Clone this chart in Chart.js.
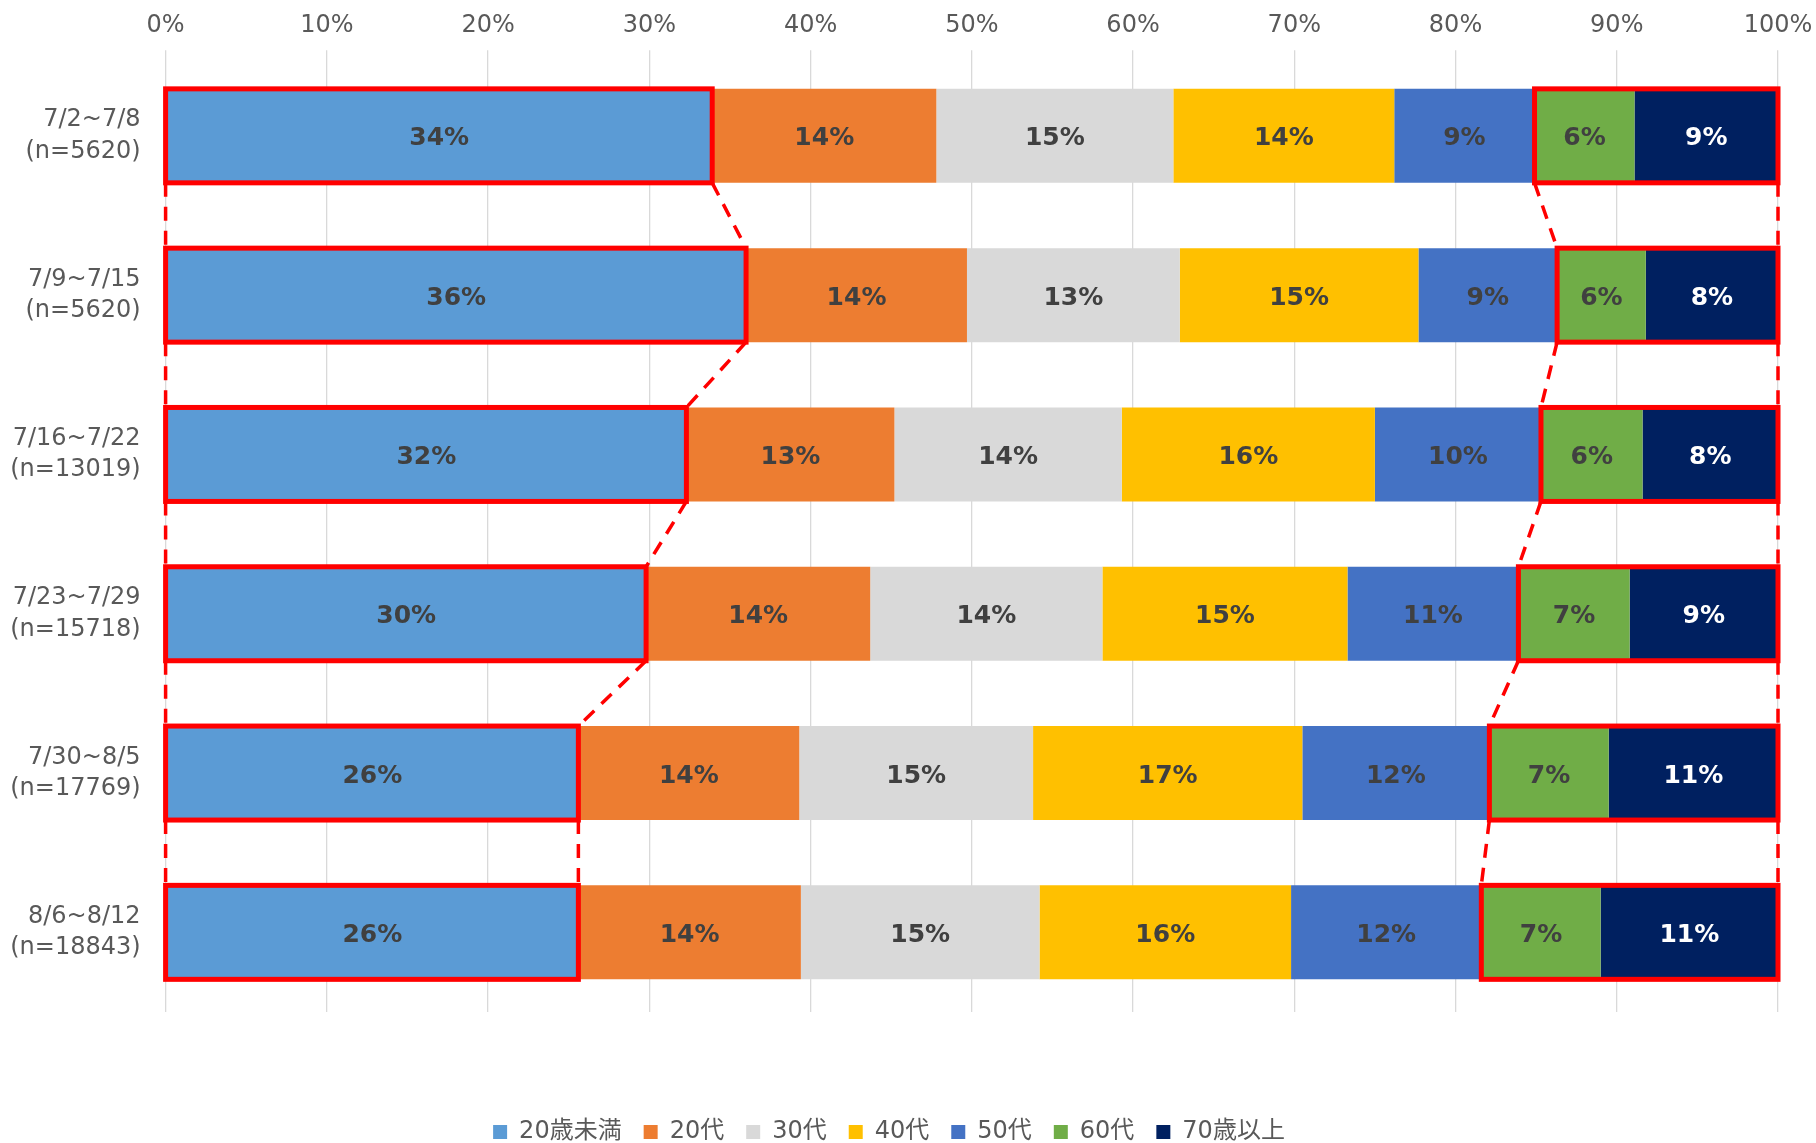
<!DOCTYPE html>
<html><head><meta charset="utf-8">
<script src="https://cdn.jsdelivr.net/npm/chart.js@4.4.1/dist/chart.umd.min.js"></script>
<style>html,body{margin:0;padding:0;background:#fff;}</style>
</head><body>
<canvas id="c" width="1816" height="1143"></canvas>
<script>
// ---- data ----
const categories = [
  ['7/2~7/8', '(n=5620)'],
  ['7/9~7/15', '(n=5620)'],
  ['7/16~7/22', '(n=13019)'],
  ['7/23~7/29', '(n=15718)'],
  ['7/30~8/5', '(n=17769)'],
  ['8/6~8/12', '(n=18843)']
];
const seriesNames = ['20歳未満', '20代', '30代', '40代', '50代', '60代', '70歳以上'];
const under20   = [33.9, 36.0, 32.3, 29.8, 25.6, 25.6];
const age20s    = [13.9, 13.7, 12.9, 13.9, 13.7, 13.8];
const age30s    = [14.7, 13.2, 14.1, 14.4, 14.5, 14.8];
const age40s    = [13.7, 14.8, 15.7, 15.2, 16.7, 15.6];
const age50s    = [ 8.7,  8.6, 10.3, 10.6, 11.6, 11.8];
const age60s    = [ 6.2,  5.5,  6.3,  6.9,  7.4,  7.4];
const age70plus = [ 8.9,  8.2,  8.4,  9.2, 10.5, 11.0];
const xTickLabels = ['0%','10%','20%','30%','40%','50%','60%','70%','80%','90%','100%'];

const seriesValues = [under20, age20s, age30s, age40s, age50s, age60s, age70plus];
const colors = ['#5B9BD5', '#ED7D31', '#D9D9D9', '#FFC000', '#4472C4', '#70AD47', '#002060'];
const labelColors = ['#404040', '#404040', '#404040', '#404040', '#404040', '#404040', '#FFFFFF'];

const FONT = '"DejaVu Sans", "Noto Sans CJK JP", sans-serif';

const overlay = {
  id: 'overlay',
  afterDatasetsDraw(chart) {
    const ctx = chart.ctx;
    const metas = chart.data.datasets.map((d, i) => chart.getDatasetMeta(i));
    const xs = chart.scales.x;
    const x0 = xs.getPixelForValue(0), x100 = xs.getPixelForValue(100);
    const n = chart.data.labels.length;
    const rows = [];
    for (let i = 0; i < n; i++) {
      const a = metas[0].data[i];
      const g = metas[5].data[i];
      const top = a.y - a.height / 2, bot = a.y + a.height / 2;
      rows.push({ top, bot, lEnd: a.x, rStart: g.base });
    }
    ctx.save();
    ctx.strokeStyle = '#FF0000';
    // dashed connectors
    ctx.lineWidth = 3.5;
    ctx.setLineDash([14, 10]);
    for (let i = 0; i < n - 1; i++) {
      const r = rows[i], s = rows[i + 1];
      const segs = [
        [x0, r.bot, x0, s.top],
        [r.lEnd, r.bot, s.lEnd, s.top],
        [r.rStart, r.bot, s.rStart, s.top],
        [x100, r.bot, x100, s.top]
      ];
      segs.forEach(p => {
        ctx.beginPath(); ctx.moveTo(p[0], p[1]); ctx.lineTo(p[2], p[3]); ctx.stroke();
      });
    }
    // highlight rectangles
    ctx.setLineDash([]);
    ctx.lineWidth = 5;
    rows.forEach(r => {
      ctx.strokeRect(x0, r.top, r.lEnd - x0, r.bot - r.top);
      ctx.strokeRect(r.rStart, r.top, x100 - r.rStart, r.bot - r.top);
    });
    // value labels
    ctx.font = 'bold 25px "DejaVu Sans", sans-serif';
    ctx.textAlign = 'center';
    ctx.textBaseline = 'middle';
    metas.forEach((m, di) => {
      m.data.forEach((el, i) => {
        const v = chart.data.datasets[di].data[i];
        ctx.fillStyle = labelColors[di];
        ctx.fillText(Math.round(v) + '%', (el.x + el.base) / 2, el.y + 3);
      });
    });
    ctx.restore();
  }
};

const legendShift = {
  id: 'legendShift',
  afterLayout(chart) {
    const l = chart.legend;
    if (l) { l.top += 11; l.bottom += 11; }
  }
};

new Chart(document.getElementById('c'), {
  type: 'bar',
  data: {
    labels: categories,
    datasets: seriesValues.map((vals, i) => ({
      label: seriesNames[i],
      data: vals,
      backgroundColor: colors[i],
      borderWidth: 0,
      barPercentage: 0.59,
      categoryPercentage: 1.0
    }))
  },
  options: {
    indexAxis: 'y',
    responsive: false,
    animation: false,
    devicePixelRatio: 1,
    layout: { padding: { left: 0, right: 38, top: 0, bottom: 0 } },
    scales: {
      x: {
        stacked: true, min: 0, max: 100, position: 'top',
        ticks: {
          stepSize: 10, padding: 10, color: '#595959',
          font: { size: 24, family: FONT },
          callback: (v, i) => xTickLabels[i]
        },
        grid: { color: '#D9D9D9', lineWidth: 1.3, tickLength: 6, drawTicks: true },
        border: { display: false },
        afterFit(s) { s.height = 56; s.paddingLeft = 0; s.paddingRight = 0; }
      },
      xb: {
        type: 'linear', axis: 'x', position: 'bottom', display: true,
        grid: { display: false, drawTicks: false }, border: { display: false },
        ticks: { display: false },
        afterFit(s) { s.height = 75; s.paddingLeft = 0; s.paddingRight = 0; }
      },
      y: {
        stacked: true,
        grid: { display: false, drawTicks: false },
        border: { display: false },
        ticks: { color: '#595959', padding: 25, font: { size: 24, family: FONT, lineHeight: 1.3 } },
        afterFit(s) { s.width = 165.6; }
      }
    },
    plugins: {
      legend: {
        position: 'bottom',
        labels: {
          boxWidth: 14, boxHeight: 14, padding: 22, color: '#595959',
          font: { size: 24, family: FONT }
        }
      },
      tooltip: { enabled: false },
      title: { display: false }
    }
  },
  plugins: [overlay, legendShift]
});
</script>
</body></html>
